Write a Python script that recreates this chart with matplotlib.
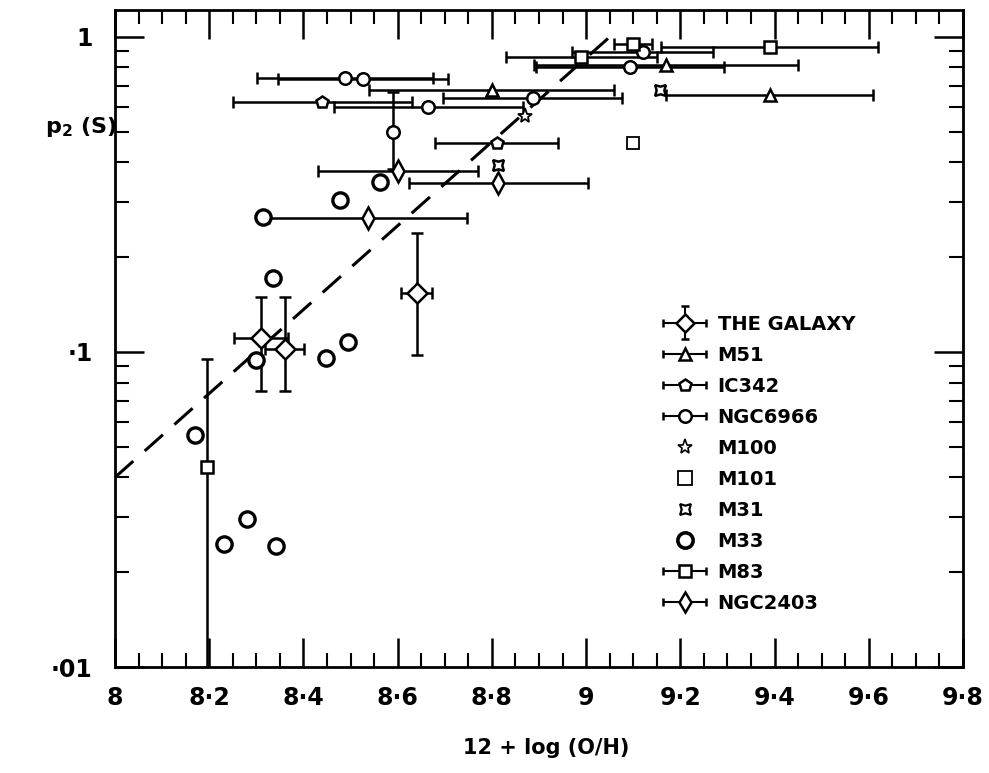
import numpy as np
import matplotlib
matplotlib.use("Agg")
import matplotlib.pyplot as plt
from matplotlib.ticker import FixedLocator, FixedFormatter, NullFormatter, LogLocator
from matplotlib.legend_handler import HandlerErrorbar
from matplotlib.container import ErrorbarContainer

plt.rcParams['font.family'] = ['DejaVu Sans']
plt.rcParams['font.weight'] = 'bold'
plt.rcParams['mathtext.fontset'] = 'custom'
plt.rcParams['mathtext.rm'] = 'DejaVu Sans:bold'
plt.rcParams['mathtext.default'] = 'regular'

# ---------------- data ----------------
XTICKS = [8.0, 8.2, 8.4, 8.6, 8.8, 9.0, 9.2, 9.4, 9.6, 9.8]
XTICK_LABELS = ['8', '8·2', '8·4', '8·6', '8·8', '9', '9·2', '9·4', '9·6', '9·8']
YTICKS = [0.01, 0.1, 1.0]
YTICK_LABELS = ['·01', '·1', '1']

GAL_X = [8.31, 8.36, 8.64]
GAL_Y = [0.111, 0.102, 0.154]
GAL_XERR = [0.057, 0.042, 0.033]
GAL_YLO = [0.075, 0.075, 0.098]
GAL_YHI = [0.150, 0.150, 0.239]

M51_X = [9.39, 8.80, 9.17]
M51_Y = [0.655, 0.68, 0.815]
M51_XERR = [0.22, 0.26, 0.28]

IC342_X = [8.44, 8.81]
IC342_Y = [0.62, 0.46]
IC342_XERR = [0.19, 0.13]

N6966_X = [8.488, 8.527, 8.665, 8.887, 9.093, 9.12, 8.59]
N6966_Y = [0.741, 0.735, 0.60, 0.64, 0.80, 0.895, 0.50]
N6966_XERR = [0.186, 0.18, 0.2, 0.19, 0.2, 0.15, 0.0]
N6966_YLO = [0.741, 0.735, 0.60, 0.64, 0.80, 0.895, 0.38]
N6966_YHI = [0.741, 0.735, 0.60, 0.64, 0.80, 0.895, 0.668]

M100_X = [8.87]
M100_Y = [0.56]

M101_X = [9.10]
M101_Y = [0.46]

M31_X = [9.157, 8.813]
M31_Y = [0.68, 0.393]

M33_X = [8.17, 8.231, 8.28, 8.342, 8.30, 8.448, 8.495, 8.335, 8.315, 8.478, 8.563]
M33_Y = [0.0545, 0.0245, 0.0295, 0.0242, 0.094, 0.096, 0.1076, 0.172, 0.269, 0.304, 0.347]

M83_X = [9.10, 9.39, 8.99, 8.195]
M83_Y = [0.95, 0.93, 0.865, 0.043]
M83_XERR = [0.04, 0.23, 0.16, 0.0]
M83_YLO = [0.95, 0.93, 0.865, 0.005]
M83_YHI = [0.95, 0.93, 0.865, 0.095]

N2403_X = [8.537, 8.60, 8.813]
N2403_Y = [0.266, 0.376, 0.344]
N2403_XERR = [0.21, 0.17, 0.19]

FIT_X = [8.0, 9.05]
FIT_Y = [0.040, 1.0]

# ---------------- figure ----------------
fig = plt.figure(figsize=(9.89, 7.73), dpi=100)
ax = fig.add_axes([0.1163, 0.1371, 0.8574, 0.8500])
ax.set_yscale('log')
ax.set_xlim(8.0, 9.8)
ax.set_ylim(0.01, 1.218)

LW = 1.8
CAP = 4


def series(x, y, marker, ms, xerr=None, ylo=None, yhi=None, mew=LW):
    x = np.asarray(x, float)
    y = np.asarray(y, float)
    if xerr is not None:
        xe = np.asarray(xerr, float)
        m = xe > 0
        if m.any():
            ax.errorbar(x[m], y[m], xerr=xe[m], fmt='none', ecolor='k',
                        elinewidth=LW, capsize=CAP, capthick=LW, zorder=2)
    if ylo is not None:
        lo = y - np.asarray(ylo, float)
        hi = np.asarray(yhi, float) - y
        m = (lo > 0) | (hi > 0)
        if m.any():
            ax.errorbar(x[m], y[m], yerr=[lo[m], hi[m]], fmt='none', ecolor='k',
                        elinewidth=LW, capsize=CAP, capthick=LW, zorder=2)
    ax.plot(x, y, ls='none', marker=marker, ms=ms, mfc='white', mec='k',
            mew=mew, zorder=3)


ax.plot(FIT_X, FIT_Y, color='k', lw=2.2, dashes=(8, 5), zorder=1)

series(GAL_X, GAL_Y, 'D', 10, GAL_XERR, GAL_YLO, GAL_YHI)
series(M51_X, M51_Y, '^', 9, M51_XERR)
series(IC342_X, IC342_Y, 'p', 9, IC342_XERR)
series(N6966_X, N6966_Y, 'o', 9, N6966_XERR, N6966_YLO, N6966_YHI)
series(M100_X, M100_Y, '*', 11, mew=1.3)
series(M101_X, M101_Y, 's', 9, mew=1.3)
series(M31_X, M31_Y, (4, 1, 45), 11)
series(M33_X, M33_Y, 'o', 11, mew=2.4)
series(M83_X, M83_Y, 's', 9, M83_XERR, M83_YLO, M83_YHI)
series(N2403_X, N2403_Y, 'd', 11, N2403_XERR)

# ---------------- legend ----------------
def eb_handle(marker, ms, xe=True, ye=False, mew=LW):
    kw = dict(fmt=marker, ms=ms, mfc='white', mec='k', mew=mew, ecolor='k',
              elinewidth=1.5, capsize=3, capthick=1.5)
    if xe:
        kw['xerr'] = [[1.0]]
    if ye:
        kw['yerr'] = [[1.0]]
    return ax.errorbar([np.nan], [np.nan], **kw)

handles = [
    eb_handle('D', 9, True, True),
    eb_handle('^', 9),
    eb_handle('p', 9),
    eb_handle('o', 9),
    ax.plot([], [], ls='none', marker='*', ms=11, mfc='white', mec='k', mew=1.2)[0],
    ax.plot([], [], ls='none', marker='s', ms=10, mfc='white', mec='k', mew=1.3)[0],
    ax.plot([], [], ls='none', marker=(4, 1, 45), ms=11, mfc='white', mec='k', mew=1.6)[0],
    ax.plot([], [], ls='none', marker='o', ms=11, mfc='white', mec='k', mew=2.6)[0],
    eb_handle('s', 9),
    eb_handle('d', 10),
]
labels = ['THE GALAXY', 'M51', 'IC342', 'NGC6966', 'M100', 'M101', 'M31',
          'M33', 'M83', 'NGC2403']
leg = ax.legend(handles, labels, loc='upper left', bbox_to_anchor=(0.635, 0.548),
                frameon=False, fontsize=14, labelspacing=0.62, handlelength=2.4,
                handletextpad=0.5, borderaxespad=0,
                handler_map={ErrorbarContainer: HandlerErrorbar(xerr_size=1.1,
                                                                yerr_size=0.85)})

# ---------------- axes styling ----------------
ax.xaxis.set_major_locator(FixedLocator(XTICKS))
ax.xaxis.set_major_formatter(FixedFormatter(XTICK_LABELS))
ax.xaxis.set_minor_locator(FixedLocator(np.arange(8.0, 9.801, 0.05)))
ax.yaxis.set_major_locator(FixedLocator(YTICKS))
ax.yaxis.set_major_formatter(FixedFormatter(YTICK_LABELS))
ax.yaxis.set_minor_locator(LogLocator(base=10, subs=np.arange(2, 10), numticks=20))
ax.yaxis.set_minor_formatter(NullFormatter())

ax.tick_params(which='major', direction='in', length=21, width=1.8,
               top=True, right=True, labelsize=17, pad=14)
ax.tick_params(which='minor', direction='in', length=10, width=1.5,
               top=True, right=True)
ax.tick_params(axis='y', which='major', pad=16)
for s in ax.spines.values():
    s.set_linewidth(2.0)

ax.set_xlabel('12 + log (O/H)', fontsize=15, fontweight='bold')
ax.xaxis.set_label_coords(0.509, -0.108)
ax.set_ylabel(r'p$_2$ (S)', fontsize=16, fontweight='bold', rotation=0,
              va='center', ha='center')
ax.yaxis.set_label_coords(-0.04, 0.822)

fig.savefig('out.png', dpi=100)
